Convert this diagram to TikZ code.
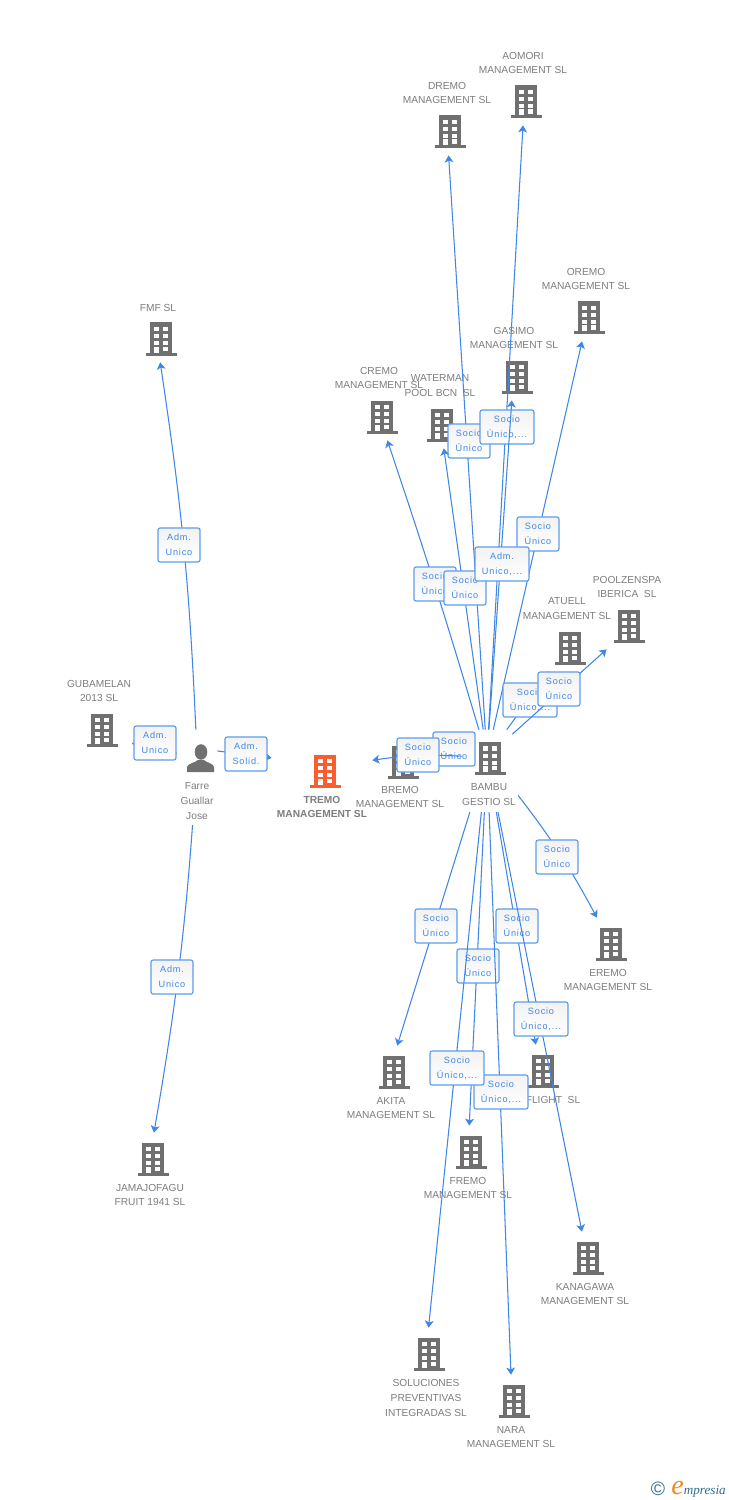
\documentclass[tikz,border=0pt]{standalone}
\usepackage{fontspec}
\setmainfont{Liberation Sans}
\newfontfamily\tagfont[LetterSpace=9]{Liberation Sans}
\newfontfamily\logofont{Liberation Serif}
\usetikzlibrary{arrows.meta}
\definecolor{linkblue}{HTML}{3F87E6}
\definecolor{tagborder}{HTML}{5F9DEB}
\definecolor{bldgray}{HTML}{707070}
\definecolor{lblgray}{HTML}{7E7E7E}
\definecolor{tremored}{HTML}{FB5D2E}
\definecolor{logoblue}{HTML}{2E6F94}
\definecolor{logoorange}{HTML}{F08A24}
\newcommand{\bldgicon}[1]{%
  \begin{scope}[shift={(path picture bounding box.center)}]
    \fill[#1] (-8.2,-15) rectangle (14.2,18);
    \fill[#1] (-12.5,15) rectangle (18.5,18);
    \foreach \wx in {-4.2,5.2}
      \foreach \wy in {-10.7,-3.3,3.5}
        \fill[white] (\wx,\wy) rectangle ++(5,4.2);
    \fill[white] (-4.2,9) rectangle (.8,15);
    \fill[white] (5.2,9) rectangle (10.2,13.3);
  \end{scope}}
\tikzset{
  bld/.style={inner sep=0pt,minimum width=1.3cm,minimum height=.98cm,
    path picture={\bldgicon{#1}}},
  bld/.default=bldgray,
  lbl/.style={font=\fontsize{5.8}{8.5}\selectfont,text=lblgray,align=center,inner sep=0pt},
  tag/.style={font=\tagfont\fontsize{5.2}{8.5}\selectfont,text=linkblue,align=center,
    draw=tagborder,line width=.65pt,rounded corners=1.2pt,inner sep=0pt,
    minimum width=.84cm,minimum height=.68cm,top color=black!5,bottom color=white},
  widetag/.style={tag,minimum width=1.08cm},
  link/.style={draw=linkblue,line width=.6pt,-{Stealth[length=4pt,width=5pt,inset=1pt]}}
}
\begin{document}
\begin{tikzpicture}[x=.02cm,y=-.02cm]
  \path[use as bounding box,fill=white] (0,0) rectangle (728,1500);

  % Empresas arriba
  \node[bld] (dremo) at (447,130.5) {};
  \node[lbl] (dremolbl) at (447,93) {DREMO\\MANAGEMENT SL};
  \node[bld] (aomori) at (523,100.5) {};
  \node[lbl] (aomorilbl) at (523,63) {AOMORI\\MANAGEMENT SL};
  \node[bld] (oremo) at (586,316.5) {};
  \node[lbl] (oremolbl) at (586,279) {OREMO\\MANAGEMENT SL};
  \node[bld] (gasimo) at (514,375.5) {};
  \node[lbl] (gasimolbl) at (514,338) {GASIMO\\MANAGEMENT SL};
  \node[bld] (cremo) at (379,415.5) {};
  \node[lbl] (cremolbl) at (379,378) {CREMO\\MANAGEMENT SL};
  \node[bld] (waterman) at (439,423.5) {};
  \node[lbl] (watermanlbl) at (440,386) {WATERMAN\\POOL BCN~~SL};
  \node[bld] (atuell) at (567,646.5) {};
  \node[lbl] (atuelllbl) at (567,609) {ATUELL\\MANAGEMENT SL};
  \node[bld] (poolzen) at (626,624.5) {};
  \node[lbl] (poolzenlbl) at (627,587) {POOLZENSPA\\IBERICA~~SL};

  % Empresas abajo
  \node[bld] (eremo) at (608,942.5) {};
  \node[lbl] (eremolbl) at (608,980) {EREMO\\MANAGEMENT SL};
  \node[bld] (akita) at (391,1070.5) {};
  \node[lbl] (akitalbl) at (391,1108) {AKITA\\MANAGEMENT SL};
  \node[bld] (flight) at (540,1069.5) {};
  \node[lbl] (flightlbl) at (553,1100) {FLIGHT~~SL};
  \node[bld] (fremo) at (468,1150.5) {};
  \node[lbl] (fremolbl) at (468,1188) {FREMO\\MANAGEMENT SL};
  \node[bld] (kanagawa) at (585,1256.5) {};
  \node[lbl] (kanagawalbl) at (585,1294) {KANAGAWA\\MANAGEMENT SL};
  \node[bld] (soluciones) at (426,1352.5) {};
  \node[lbl] (solucioneslbl) at (426,1398) {SOLUCIONES\\PREVENTIVAS\\INTEGRADAS SL};
  \node[bld] (nara) at (511,1399.5) {};
  \node[lbl] (naralbl) at (511,1437) {NARA\\MANAGEMENT SL};

  % Izquierda
  \node[bld] (fmf) at (158,337.5) {};
  \node[lbl] (fmflbl) at (158,308) {FMF SL};
  \node[bld] (gubamelan) at (99,728.5) {};
  \node[lbl] (gubamelanlbl) at (99,691) {GUBAMELAN\\2013 SL};
  \node[bld] (jamajofagu) at (150,1157.5) {};
  \node[lbl] (jamajofagulbl) at (150,1195) {JAMAJOFAGU\\FRUIT 1941 SL};

  % Centro
  \node[bld=tremored,minimum width=2cm] (tremo) at (322,769.5) {};
  \node[lbl,font=\bfseries\fontsize{5.8}{8.5}\selectfont] (tremolbl) at (322,807) {TREMO\\MANAGEMENT SL};
  \node[bld] (bremo) at (400,760.5) {};
  \node[lbl] (bremolbl) at (400,797) {BREMO\\MANAGEMENT SL};
  \node[inner sep=0pt,minimum width=1cm,minimum height=1.08cm,
    path picture={\bldgicon{bldgray}}] (bambu) at (487,757) {};

  % Persona
  \node[inner sep=0pt,minimum width=.8cm,minimum height=1.12cm,path picture={
    \begin{scope}[shift={(path picture bounding box.center)}]
      \fill[bldgray] (4,-6) ellipse (6.3 and 7.8);
      \fill[bldgray] (-10,14) -- (-10,9) .. controls (-9,5) and (-2,5) .. (1,2)
        -- (7,2) .. controls (10,5) and (16,5) .. (17,9) -- (17,14) -- cycle;
    \end{scope}}] (farre) at (197,758) {};

  % Bambu arriba
  \draw[link] (bambu) to[bend right=1] (cremo);
  \node[tag] (tagcremo) at (435,584) {Socio\\Único};
  \draw[link] (bambu) to (dremo);
  \node[tag] (tagdremo) at (469,441) {Socio\\Único};
  \draw[link] (bambu) to (waterman.281);
  \node[tag] (tagwaterman) at (465,588) {Socio\\Único};
  \draw[link] (bambu) to (aomori.south);
  \node[widetag] (tagaomori) at (507,427) {Socio\\Único,...};
  \draw[link] (bambu) to (oremo.261);
  \node[tag] (tagoremo) at (538,534) {Socio\\Único};
  \draw[link] (bambu) to (gasimo.265);
  \node[widetag] (taggasimo) at (502,564) {Adm.\\Unico,...};
  \draw[link] (bambu) to (atuell);
  \node[widetag] (tagatuell) at (530,700) {Socio\\Único,...};
  \draw[link] (bambu) to (poolzen.232);
  \node[tag] (tagpoolzen) at (559,689) {Socio\\Único};

  % Bambu izquierda
  \draw[link] (bambu) to (bremo);
  \node[tag] (tagbremo) at (454,749) {Socio\\Único};
  \draw[link] (bambu) to[bend right=6] (tremo);
  \node[tag] (tagtremo) at (418,755) {Socio\\Único};

  % Bambu abajo
  \draw[link] (bambu) to (flight);
  \node[tag] (tagflight) at (517,926) {Socio\\Único};
  \draw[link] (bambu) to (kanagawa.97);
  \node[widetag] (tagkanagawa) at (541,1019) {Socio\\Único,...};
  \draw[link] (bambu) to (fremo);
  \node[tag] (tagfremo) at (478,966) {Socio\\Único};
  \draw[link] (bambu) to (nara.north);
  \node[widetag] (tagnara) at (501,1092) {Socio\\Único,...};
  \draw[link] (bambu) to (soluciones);
  \node[widetag] (tagsoluciones) at (457,1068) {Socio\\Único,...};
  \draw[link] (bambu) to (akita.76);
  \node[tag] (tagakita) at (436,926) {Socio\\Único};
  \draw[link] (bambu) to[bend left=5] (eremo.114);
  \node[tag] (tageremo) at (557,857) {Socio\\Único};

  % Farre
  \draw[link] (farre) to[bend right=3] (fmf.275);
  \node[tag] (tagfmf) at (179,545) {Adm.\\Unico};
  \draw[link] (farre) to (gubamelan.-24);
  \node[tag] (taggubamelan) at (155,743) {Adm.\\Unico};
  \draw[link] (farre.19) -- (tremo.167);
  \node[tag] (tagtremoadm) at (246,754) {Adm.\\Solid.};
  \draw[link] (farre) to[bend left=3] (jamajofagu.81);
  \node[tag] (tagjamajofagu) at (172,977) {Adm.\\Unico};

  % Textos encima de las lineas
  \node[lbl,fill=white,minimum width=1.14cm,minimum height=.68cm] (bambulbl) at (489,795) {BAMBU\\GESTIO SL};
  \node[lbl,fill=white,minimum height=.96cm] (farrelbl) at (197,801) {Farre\\Guallar\\Jose};

  % Logo
  \node[inner sep=0pt,font=\fontsize{11}{11}\selectfont,text=logoblue] (logoc) at (658,1489) {©};
  \node[inner sep=0pt,font=\logofont\itshape\fontsize{7.5}{7.5}\selectfont,text=logoblue,anchor=west] (logo) at (671,1489)
    {{\fontsize{16}{16}\selectfont\color{logoorange}e}mpresia};
\end{tikzpicture}
\end{document}
